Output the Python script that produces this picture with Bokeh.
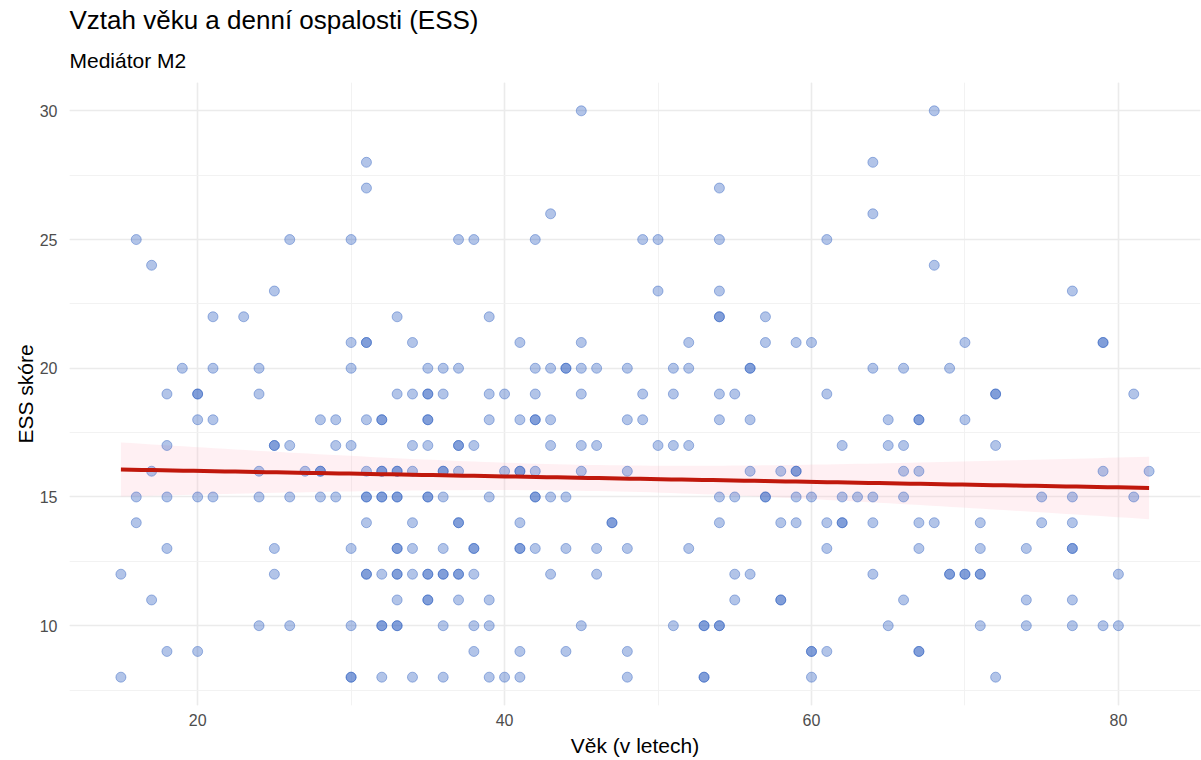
import numpy as np
from bokeh.plotting import figure
from bokeh.models import Title, SingleIntervalTicker, ColumnDataSource
from bokeh.embed import file_html
from bokeh.resources import INLINE

ess_levels = [30, 28, 27, 26, 25, 24, 23, 22, 21, 20, 19, 18, 17, 16, 15, 14, 13, 12, 11, 10, 9, 8]
ages_30 = [45, 68]
ages_28 = [31, 64]
ages_27 = [31, 54]
ages_26 = [43, 64]
ages_25 = [16, 26, 30, 37, 38, 42, 49, 50, 54, 61]
ages_24 = [17, 68]
ages_23 = [25, 50, 54, 77]
ages_22 = [21, 23, 33, 39, 54, 54, 57]
ages_21 = [30, 31, 31, 34, 41, 45, 52, 57, 59, 60, 70, 79, 79]
ages_20 = [19, 21, 24, 30, 35, 36, 37, 42, 43, 44, 44, 45, 46, 48, 51, 52, 56, 56, 64, 66, 69]
ages_19 = [18, 20, 20, 24, 33, 34, 35, 35, 36, 39, 40, 42, 45, 49, 51, 54, 55, 61, 72, 72, 81]
ages_18 = [20, 21, 28, 29, 31, 32, 32, 35, 35, 39, 41, 42, 42, 43, 48, 49, 54, 56, 65, 67, 67, 70]
ages_17 = [18, 25, 25, 26, 29, 30, 34, 35, 37, 37, 38, 43, 45, 46, 50, 51, 52, 62, 65, 66, 72]
ages_16 = [17, 24, 27, 28, 28, 31, 32, 32, 33, 33, 34, 36, 36, 37, 40, 41, 41, 42, 45, 48, 56, 58, 59, 59, 66, 67, 79, 82]
ages_15 = [16, 18, 20, 21, 24, 26, 28, 29, 31, 31, 32, 32, 33, 33, 35, 35, 36, 39, 42, 42, 43, 44, 54, 55, 57, 57, 59, 60, 62, 63, 64, 66, 75, 77, 81]
ages_14 = [16, 31, 34, 37, 37, 41, 47, 47, 54, 58, 59, 61, 62, 62, 64, 67, 68, 71, 75, 77]
ages_13 = [18, 25, 30, 33, 33, 34, 36, 38, 38, 41, 41, 42, 44, 46, 48, 52, 61, 67, 71, 74, 77, 77]
ages_12 = [15, 25, 31, 31, 32, 33, 33, 34, 35, 35, 36, 36, 37, 37, 38, 43, 46, 55, 56, 64, 69, 69, 70, 70, 71, 71, 80]
ages_11 = [17, 33, 35, 35, 37, 39, 55, 58, 58, 66, 74, 77]
ages_10 = [24, 26, 30, 32, 32, 33, 33, 36, 38, 39, 45, 51, 53, 53, 54, 54, 65, 71, 74, 77, 79, 80]
ages_9 = [18, 20, 38, 41, 44, 48, 60, 60, 61, 67, 67]
ages_8 = [15, 30, 30, 32, 34, 36, 39, 40, 41, 48, 53, 53, 60, 72]

ages_by_level = [ages_30, ages_28, ages_27, ages_26, ages_25, ages_24, ages_23, ages_22,
                 ages_21, ages_20, ages_19, ages_18, ages_17, ages_16, ages_15, ages_14,
                 ages_13, ages_12, ages_11, ages_10, ages_9, ages_8]

title_text = "Vztah věku a denní ospalosti (ESS)"
subtitle_text = "Mediátor M2"
x_label = "Věk (v letech)"
y_label = "ESS skóre"

age = []
ess = []
for lvl, lst in zip(ess_levels, ages_by_level):
    for a in lst:
        age.append(a)
        ess.append(lvl)

x = np.array(age, dtype=float)
y = np.array(ess, dtype=float)

# linear fit with 95% confidence band
b1, b0 = np.polyfit(x, y, 1)
n = len(x)
resid = y - (b0 + b1 * x)
s = np.sqrt(np.sum(resid ** 2) / (n - 2))
xbar = x.mean()
sxx = np.sum((x - xbar) ** 2)
xs = np.linspace(x.min(), x.max(), 100)
fit = b0 + b1 * xs
se = s * np.sqrt(1.0 / n + (xs - xbar) ** 2 / sxx)
tval = 1.966
lower = fit - tval * se
upper = fit + tval * se

FONT = "Liberation Sans"

p = figure(width=1201, height=760, x_range=(11.65, 85.35), y_range=(6.9, 31.1),
           output_backend="svg", toolbar_location=None,
           min_border_left=69, min_border_right=1, min_border_top=82, min_border_bottom=55)
p.background_fill_color = "white"
p.border_fill_color = "white"
p.outline_line_color = None

sub = Title(text=subtitle_text, align="left", text_font_size="21px", text_font_style="normal",
            text_font=FONT, text_color="#000000", standoff=21)
p.add_layout(sub, "above")
main = Title(text=title_text, align="left", text_font_size="26px", text_font_style="normal",
             text_font=FONT, text_color="#000000", standoff=4)
p.add_layout(main, "above")

p.xaxis.ticker = SingleIntervalTicker(interval=20, num_minor_ticks=2)
p.yaxis.ticker = SingleIntervalTicker(interval=5, num_minor_ticks=2)
p.xgrid.ticker = p.xaxis.ticker
p.ygrid.ticker = p.yaxis.ticker

for g in (p.xgrid, p.ygrid):
    g.grid_line_color = "#ebebeb"
    g.grid_line_width = 1.6
    g.minor_grid_line_color = "#f0f0f0"
    g.minor_grid_line_width = 0.9

for ax in (p.xaxis, p.yaxis):
    ax.axis_line_color = None
    ax.major_tick_line_color = None
    ax.minor_tick_line_color = None
    ax.major_label_text_font = FONT
    ax.major_label_text_font_size = "16px"
    ax.major_label_text_color = "#4d4d4d"
    ax.axis_label_text_font = FONT
    ax.axis_label_text_font_size = "21px"
    ax.axis_label_text_font_style = "normal"
    ax.axis_label_text_color = "#000000"

p.xaxis.axis_label = x_label
p.yaxis.axis_label = y_label
p.xaxis.major_label_standoff = 2
p.yaxis.major_label_standoff = 6
p.xaxis.axis_label_standoff = 5
p.yaxis.axis_label_standoff = 0

band_src = ColumnDataSource(dict(x=xs, lo=lower, hi=upper, fit=fit))
p.varea(x="x", y1="lo", y2="hi", source=band_src, fill_color="#ffb6c1", fill_alpha=0.2)

pts = ColumnDataSource(dict(age=x, ess=y))
p.scatter(x="age", y="ess", source=pts, size=10, marker="circle",
          fill_color="#2a5cbf", fill_alpha=0.36, line_color="#2a5cbf", line_alpha=0.42, line_width=1)

p.line(x="x", y="fit", source=band_src, line_color="#c0180c", line_width=4)

open("out.html", "w").write(file_html(p, INLINE))
